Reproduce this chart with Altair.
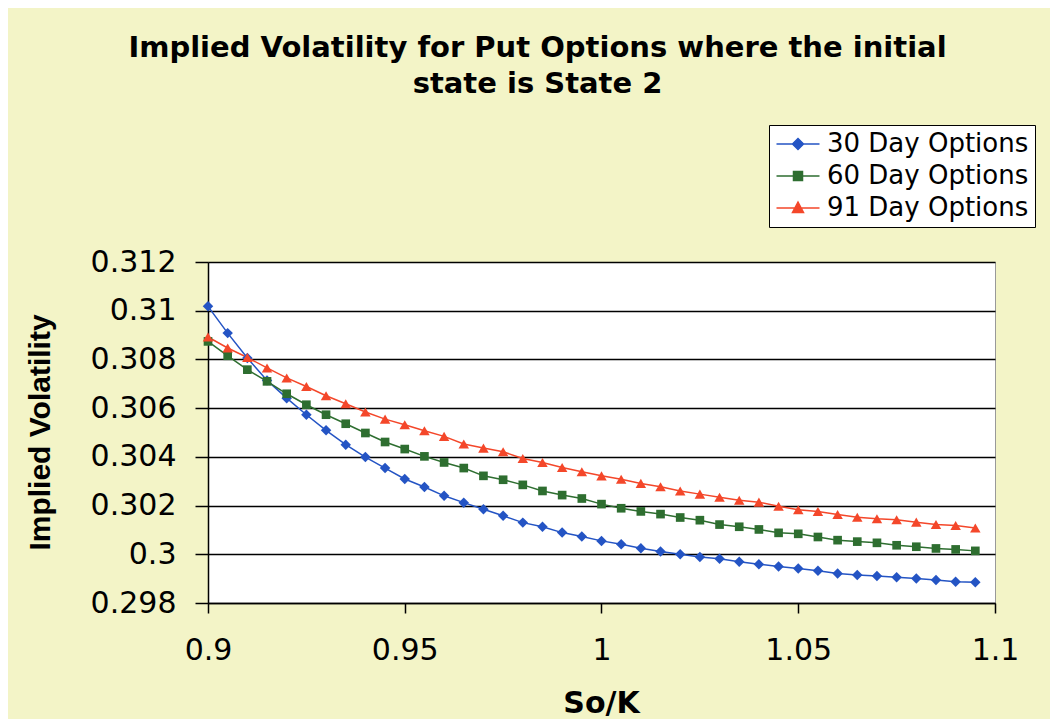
import altair as alt
import pandas as pd

# ---------------- data ----------------
so_k = [0.900, 0.905, 0.910, 0.915, 0.920, 0.925, 0.930, 0.935, 0.940, 0.945,
        0.950, 0.955, 0.960, 0.965, 0.970, 0.975, 0.980, 0.985, 0.990, 0.995,
        1.000, 1.005, 1.010, 1.015, 1.020, 1.025, 1.030, 1.035, 1.040, 1.045,
        1.050, 1.055, 1.060, 1.065, 1.070, 1.075, 1.080, 1.085, 1.090, 1.095]

iv_30 = [0.31018, 0.30908, 0.30806, 0.30714, 0.30641, 0.30573, 0.30509, 0.30450, 0.30399, 0.30354,
         0.30309, 0.30276, 0.30240, 0.30212, 0.30185, 0.30158, 0.30130, 0.30113, 0.30089, 0.30073,
         0.30055, 0.30041, 0.30025, 0.30011, 0.30000, 0.29989, 0.29982, 0.29969, 0.29959, 0.29950,
         0.29942, 0.29932, 0.29921, 0.29915, 0.29911, 0.29906, 0.29901, 0.29894, 0.29887, 0.29885]

iv_60 = [0.30874, 0.30815, 0.30758, 0.30710, 0.30659, 0.30614, 0.30573, 0.30536, 0.30498, 0.30461,
         0.30432, 0.30402, 0.30377, 0.30354, 0.30322, 0.30306, 0.30285, 0.30260, 0.30243, 0.30229,
         0.30206, 0.30189, 0.30176, 0.30165, 0.30151, 0.30140, 0.30122, 0.30113, 0.30102, 0.30088,
         0.30084, 0.30071, 0.30058, 0.30052, 0.30047, 0.30037, 0.30031, 0.30024, 0.30020, 0.30014]

iv_91 = [0.30892, 0.30847, 0.30808, 0.30765, 0.30724, 0.30689, 0.30651, 0.30618, 0.30584, 0.30555,
         0.30532, 0.30507, 0.30484, 0.30453, 0.30436, 0.30421, 0.30393, 0.30377, 0.30356, 0.30339,
         0.30322, 0.30308, 0.30291, 0.30277, 0.30260, 0.30247, 0.30234, 0.30222, 0.30214, 0.30197,
         0.30183, 0.30176, 0.30163, 0.30152, 0.30146, 0.30142, 0.30132, 0.30122, 0.30118, 0.30108]

series_names = ["30 Day Options", "60 Day Options", "91 Day Options"]
x_ticks = [0.9, 0.95, 1.0, 1.05, 1.1]
y_ticks = [0.298, 0.300, 0.302, 0.304, 0.306, 0.308, 0.310, 0.312]

title_lines = ["Implied Volatility for Put Options where the initial", "state is State 2"]
x_title = "So/K"
y_title = "Implied Volatility"

# ---------------- styles ----------------
series_colors = ["#2454C4", "#2E6E30", "#F4472A"]
marker_shapes = ["diamond", "square", "triangle-up"]
marker_sizes = [110, 75, 110]
legend_paths = [
    "M-4.3,0H4.3M0,-1.1L1.1,0L0,1.1L-1.1,0Z",
    "M-4.3,0H4.3M-0.9,-0.9H0.9V0.9H-0.9Z",
    "M-4.3,0H4.3M0,-1.2L1.1,0.9H-1.1Z",
]

rows = []
for name, vals in zip(series_names, [iv_30, iv_60, iv_91]):
    for xv, yv in zip(so_k, vals):
        rows.append({"SoK": xv, "series": name, "iv": yv})
df = pd.DataFrame(rows)

color_scale = alt.Scale(domain=series_names, range=series_colors)

x_enc = alt.X("SoK:Q", scale=alt.Scale(domain=[0.9, 1.1], nice=False, zero=False),
              axis=alt.Axis(values=x_ticks, format="~f", grid=False, labelFlush=False,
                            labelFont="DejaVu Sans", labelFontSize=30, labelColor="black",
                            labelPadding=22, tickSize=10, tickColor="black", tickWidth=1.5,
                            domainColor="black", domainWidth=1.5,
                            title=x_title, titleFont="DejaVu Sans", titleFontSize=30,
                            titleFontWeight="bold", titleColor="black",
                            titleX=393, titleY=100, titleBaseline="middle"))
y_enc = alt.Y("iv:Q", scale=alt.Scale(domain=[0.298, 0.312], nice=False, zero=False),
              axis=alt.Axis(values=y_ticks, format="~f", grid=True, labelFlush=False,
                            gridColor="black", gridWidth=1.5, gridOpacity=1,
                            labelFont="DejaVu Sans", labelFontSize=30, labelColor="black",
                            labelPadding=19, tickSize=13, tickColor="black", tickWidth=1.5,
                            domainColor="black", domainWidth=1.5,
                            title=y_title, titleFont="Liberation Sans", titleFontSize=30,
                            titleFontWeight="bold", titleColor="black",
                            titleX=-168, titleY=170, titleAngle=270,
                            titleBaseline="middle", titleAlign="center"))

legend = alt.Legend(title=None, orient="none", legendX=561, legendY=-137,
                    fillColor="white", strokeColor="black", padding=6,
                    labelFont="DejaVu Sans", labelFontSize=26, labelColor="black",
                    labelLimit=400,
                    symbolSize=100, symbolStrokeWidth=1.5, symbolOpacity=1,
                    symbolOffset=10, labelOffset=16, rowPadding=6)

legend_layer = alt.Chart().mark_point(filled=True, opacity=0).encode(
    x=x_enc, y=y_enc,
    color=alt.Color("series:N", scale=color_scale, legend=legend, sort=series_names),
    stroke=alt.Stroke("series:N", scale=color_scale, legend=legend, sort=series_names),
    shape=alt.Shape("series:N", scale=alt.Scale(domain=series_names, range=legend_paths),
                    legend=legend, sort=series_names),
)

line_layer = alt.Chart().mark_line(strokeWidth=1.5).encode(
    x=x_enc, y=y_enc,
    color=alt.Color("series:N", scale=color_scale, legend=None),
    detail="series:N",
)

marker_layers = []
for name, shp, sz in zip(series_names, marker_shapes, marker_sizes):
    marker_layers.append(
        alt.Chart().mark_point(filled=True, shape=shp, size=sz, opacity=1).encode(
            x=x_enc, y=y_enc,
            color=alt.Color("series:N", scale=color_scale, legend=None),
        ).transform_filter(alt.datum.series == name)
    )

chart = alt.layer(legend_layer, line_layer, *marker_layers, data=df).properties(
    width=787, height=341,
    title=alt.TitleParams(title_lines, font="DejaVu Sans", fontSize=29, fontWeight="bold",
                          color="black", lineHeight=36, anchor="middle", offset=26, dx=-64),
    padding={"left": 200, "top": 254, "right": 55, "bottom": 116},
    autosize=alt.AutoSizeParams(type="none"),
    background="#F3F4C7",
).configure_view(fill="white", stroke="#999999", strokeWidth=1)

chart.save("out.html", embed_options={"renderer": "svg", "actions": False})
